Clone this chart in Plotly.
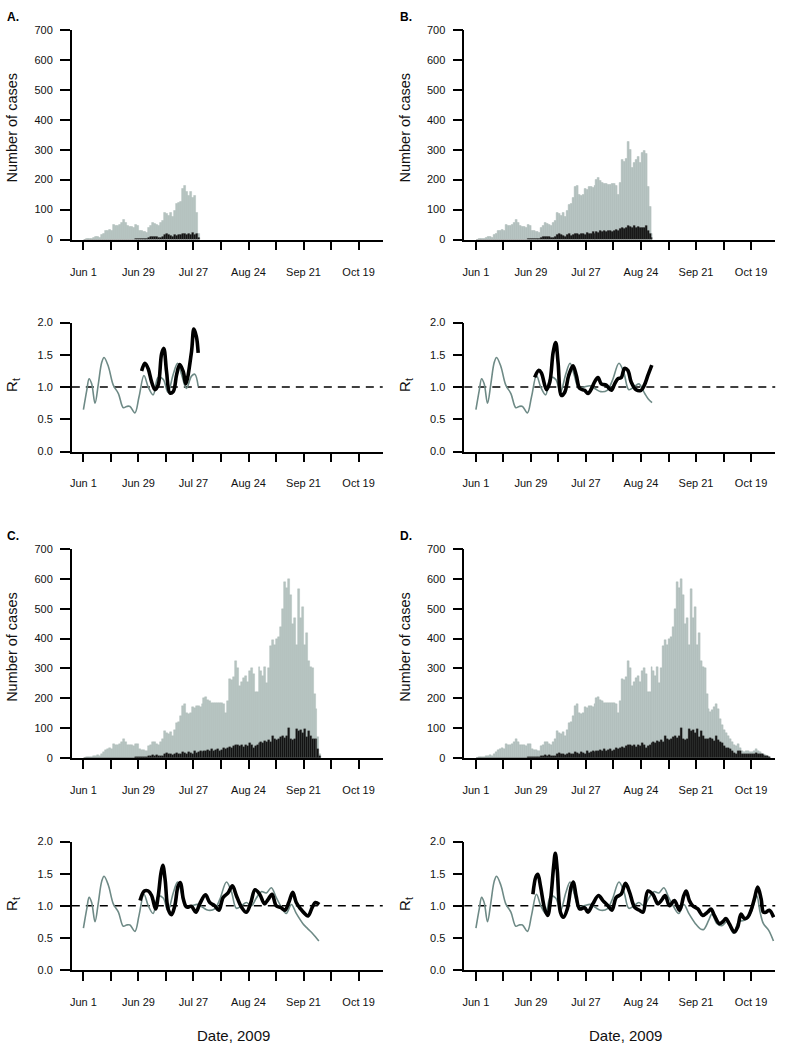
import pandas as pd
import plotly.graph_objects as go

START = pd.Timestamp("2009-06-01")

# ---------------- daily case counts (panel D = full series) ----------------
cases_total_D = [
    0, 2, 2, 3, 3, 5, 8, 10, 5, 15,
    20, 28, 30, 32, 30, 48, 45, 45, 48, 55,
    65, 55, 45, 42, 42, 40, 48, 47, 30, 28,
    27, 25, 22, 40, 45, 55, 52, 48, 45, 55,
    62, 90, 85, 80, 88, 75, 95, 118, 120, 140,
    175, 180, 150, 148, 150, 170, 168, 175, 175, 172,
    180, 200, 205, 195, 190, 185, 185, 184, 183, 185,
    185, 180, 150, 190, 265, 260, 270, 325, 300, 240,
    255, 268, 275, 255, 290, 300, 280, 220, 222, 305,
    290, 275, 305, 250, 300, 375, 395, 380, 400, 405,
    440, 500, 590, 570, 600, 545, 450, 470, 380, 565,
    470, 505, 380, 420, 325, 305, 300, 215, 165, 155,
    160, 170, 180, 165, 130, 110, 95, 85, 75, 65,
    52, 45, 40, 46, 35, 25, 20, 22, 25, 20,
    19, 22, 30, 25, 19, 15, 13, 10, 8, 3,
]
cases_black_D = [
    0, 0, 0, 0, 0, 0, 0, 0, 0, 0,
    0, 0, 0, 0, 0, 0, 0, 0, 0, 0,
    0, 0, 0, 0, 0, 0, 2, 3, 3, 2,
    3, 2, 3, 5, 8, 10, 8, 10, 6, 5,
    8, 15, 18, 15, 12, 10, 15, 18, 12, 15,
    20, 18, 15, 20, 18, 15, 22, 18, 20, 25,
    20, 25, 22, 28, 25, 30, 25, 28, 30, 25,
    28, 32, 30, 35, 38, 35, 40, 45, 42, 40,
    45, 38, 42, 40, 50, 45, 35, 40, 45, 50,
    55, 50, 58, 55, 60, 55, 75, 62, 60, 65,
    70, 72, 68, 75, 100, 62, 60, 65, 98, 92,
    95, 85, 96, 70, 90, 75, 65, 62, 65, 68,
    62, 58, 75, 60, 55, 50, 40, 35, 35, 30,
    22, 18, 15, 22, 25, 15, 12, 12, 15, 14,
    15, 12, 18, 15, 12, 15, 10, 8, 5, 2,
]

# earlier (truncated) data sets: first cut days shared with D, then own tail
cut_A = 47
tail_total_A = [120, 122, 125, 170, 180, 160, 145, 160, 140, 145, 90, 20]
tail_black_A = [12, 15, 15, 18, 20, 15, 20, 15, 22, 15, 18, 5]
cut_B = 84
tail_total_B = [290, 295, 285, 175, 110, 20]
tail_black_B = [40, 38, 45, 30, 20, 5]
cut_C = 119
tail_total_C = [70, 15]
tail_black_C = [30, 5]

# ---------------- Rt estimates (day offset from Jun 1, value) ----------------
rt_gray_days_D = [0, 1.7, 2.9, 4.2, 5.9, 7.6, 9.3, 10.5, 12.7, 15.2, 17.8, 20.3, 22, 23.7,
                  26.2, 28.3, 30.8, 33, 35.5, 38, 40.6, 43, 45.7, 47.9, 49.9, 52.4, 55,
                  58.4, 60.9, 63.5, 66.8, 69.4, 72.8, 75.3, 77.8, 80.4, 82.9, 85.4, 88,
                  90.5, 93.1, 95.6, 98.1, 100.7, 103.2, 105.8, 108.3, 111.7, 114.2, 115.9,
                  118.4, 120.1, 122.7, 125.2, 127.7, 131.1, 133.6, 136.2, 138.7, 141.2,
                  142.9, 144.6, 146.3, 148.9, 151.4]
rt_gray_D = [0.65, 0.95, 1.13, 1.05, 0.75, 1.05, 1.38, 1.46, 1.32, 1.03, 0.90, 0.68, 0.70,
             0.70, 0.60, 0.85, 1.18, 1.0, 0.88, 1.15, 1.12, 0.92, 1.2, 1.37, 1.2, 0.98, 1.0,
             1.02, 0.97, 0.93, 0.95, 1.1, 1.37, 1.22, 0.96, 1.0, 1.05, 1.0, 1.12, 1.22, 1.2,
             1.28, 1.13, 0.98, 0.88, 1.02, 0.88, 0.72, 0.64, 0.63, 0.77, 0.87, 0.72, 0.69,
             0.75, 0.57, 0.75, 0.77, 0.82, 1.0, 1.16, 0.90, 0.72, 0.62, 0.45]
# gray tails of the earlier data sets (replace D's curve after the given day)
rt_gray_cut_A = 52.4
rt_gray_tail_days_A = [55, 56.7, 58.4]
rt_gray_tail_A = [1.17, 1.20, 1.01]
rt_gray_cut_B = 82.9
rt_gray_tail_days_B = [85.9, 87.6, 89.6]
rt_gray_tail_B = [0.90, 0.82, 0.76]
rt_gray_cut_C = 114.2
rt_gray_tail_days_C = [116.8, 119.8]
rt_gray_tail_C = [0.56, 0.45]

rt_black_days_A = [29.6, 31.3, 33, 34.7, 36.4, 38, 39.8, 40.9, 42.3, 44, 45.7, 47.4, 49,
                   50.8, 52.1, 55, 56.2, 57.5, 58.4]
rt_black_A = [1.25, 1.37, 1.28, 1.08, 0.96, 1.03, 1.52, 1.60, 1.24, 0.91, 0.93, 1.19, 1.35,
              1.24, 1.05, 1.55, 1.90, 1.78, 1.53]

rt_black_days_B = [29.9, 32, 33.3, 35.9, 37.6, 39.3, 40.6, 41.8, 43.5, 45.2, 47.2, 49.4,
                   51.1, 52.8, 55.3, 57, 58.7, 60.4, 62.1, 63.8, 66.3, 68.9, 70.6, 72.3, 74,
                   75.6, 77.3, 79, 81.5, 84, 85.7, 87.5, 89.5]
rt_black_B = [1.15, 1.26, 1.22, 0.96, 1.08, 1.54, 1.69, 1.38, 0.87, 0.92, 1.18, 1.33, 1.18,
              0.98, 0.95, 0.90, 0.97, 1.08, 1.15, 1.05, 1.03, 0.95, 1.05, 1.13, 1.15, 1.29,
              1.26, 1.08, 0.96, 0.95, 1.03, 1.18, 1.34]

rt_black_days_C = [28.8, 31, 33, 34.7, 36.7, 38.1, 39.4, 40.4, 41.6, 43.1, 44.8, 46.5, 48.2,
                   49.4, 50.8, 52.5, 55, 57.2, 59.2, 62.1, 64.3, 66.8, 68.9, 71.1, 73.6, 75.8,
                   77.8, 80.4, 82.9, 85.1, 87.3, 89.7, 92.2, 94, 96, 98.1, 100.5, 102.5,
                   104.5, 106.5, 108.3, 110.5, 112.5, 114.3, 116.5, 118, 120]
rt_black_C = [1.08, 1.23, 1.23, 1.16, 0.95, 1.16, 1.5, 1.63, 1.4, 0.95, 0.86, 1.0, 1.31, 1.36,
              1.11, 0.98, 0.99, 0.90, 1.03, 1.17, 1.05, 1.0, 0.93, 1.13, 1.2, 1.31, 1.16,
              0.98, 0.90, 1.04, 1.25, 1.18, 1.03, 1.1, 1.18, 1.0, 0.97, 0.93, 1.05, 1.21,
              1.05, 0.95, 0.88, 0.84, 0.98, 1.05, 1.02]

rt_black_days_D = [29, 30.5, 31.5, 32.9, 35, 36.5, 38, 39.5, 40.4, 41.4, 43, 44.5, 46.5, 48.5,
                   49.6, 51, 52.8, 55.3, 57, 59.5, 62.4, 64.6, 67.2, 69.2, 71.4, 73.9, 76.1,
                   78.2, 80.7, 83.2, 85, 87.5, 90, 92.6, 94.3, 96.3, 98.5, 101, 103.6, 105.8,
                   107, 108.6, 110.3, 112.9, 115.4, 117.9, 119.6, 121.3, 123.9, 125.6, 127.2,
                   128.9, 131.5, 133.2, 134.9, 136.6, 138.3, 140, 141.7, 143.4, 145.1, 146.3,
                   147.6, 149.3, 151.5]
rt_black_D = [1.18, 1.45, 1.49, 1.3, 0.95, 0.85, 1.1, 1.6, 1.82, 1.55, 0.9, 0.82, 0.95, 1.3,
              1.37, 1.15, 0.95, 0.97, 0.90, 1.03, 1.16, 1.08, 1.0, 0.93, 1.13, 1.18, 1.35, 1.21,
              0.98, 0.93, 0.90, 1.23, 1.18, 1.03, 1.08, 1.16, 1.0, 1.08, 0.93, 1.16, 1.23, 1.08,
              1.0, 0.95, 0.85, 0.90, 0.95, 0.85, 0.72, 0.75, 0.80, 0.72, 0.59, 0.67, 0.87,
              0.80, 0.82, 0.93, 1.11, 1.29, 1.11, 0.90, 0.90, 0.93, 0.82]

panel_letters = ["A.", "B.", "C.", "D."]
tick_labels = ["Jun 1", "", "Jun 29", "", "Jul 27", "", "Aug 24", "", "Sep 21", "", "Oct 19"]
hist_ticks = [0, 100, 200, 300, 400, 500, 600, 700]
rt_ticks = [0.0, 0.5, 1.0, 1.5, 2.0]
y_title_hist = "Number of cases"
y_title_rt = "R<sub>t</sub>"
x_title = "Date, 2009"

# ---------------- assemble per-panel data ----------------
def days_to_dates(days):
    return [START + pd.Timedelta(days=float(d)) for d in days]

def cut_curve(days, vals, cut, tdays, tvals):
    d = [x for x in days if x <= cut]
    v = vals[:len(d)]
    return d + tdays, v + tvals

panels = {
    "A": dict(total=cases_total_D[:cut_A] + tail_total_A,
              black=cases_black_D[:cut_A] + tail_black_A,
              gray=cut_curve(rt_gray_days_D, rt_gray_D, rt_gray_cut_A, rt_gray_tail_days_A, rt_gray_tail_A),
              blk=(rt_black_days_A, rt_black_A)),
    "B": dict(total=cases_total_D[:cut_B] + tail_total_B,
              black=cases_black_D[:cut_B] + tail_black_B,
              gray=cut_curve(rt_gray_days_D, rt_gray_D, rt_gray_cut_B, rt_gray_tail_days_B, rt_gray_tail_B),
              blk=(rt_black_days_B, rt_black_B)),
    "C": dict(total=cases_total_D[:cut_C] + tail_total_C,
              black=cases_black_D[:cut_C] + tail_black_C,
              gray=cut_curve(rt_gray_days_D, rt_gray_D, rt_gray_cut_C, rt_gray_tail_days_C, rt_gray_tail_C),
              blk=(rt_black_days_C, rt_black_C)),
    "D": dict(total=cases_total_D, black=cases_black_D,
              gray=(rt_gray_days_D, rt_gray_D),
              blk=(rt_black_days_D, rt_black_D)),
}

# ---------------- layout geometry (pixels) ----------------
W, H = 788, 1050
cols = {"A": (70, 381.7), "B": (463.5, 775.2), "C": (70, 381.7), "D": (463.5, 775.2)}
rows = {"A": ((24, 236.3), (320.3, 450.7)), "B": ((24, 236.3), (320.3, 450.7)),
        "C": ((549.3, 760.7), (845.3, 975.0)), "D": ((549.3, 760.7), (845.3, 975.0))}

def px(x):
    return x / W

def py(y):
    return 1 - y / H

GRAY_BAR = "#b6c3c0"
GRAY_LINE = "#6e8a86"
FONT = "Liberation Sans, Arial, Helvetica, sans-serif"

xticks = [START + pd.Timedelta(days=14 * k) for k in range(11)]
xrange_ = [START - pd.Timedelta(days=5.9), START + pd.Timedelta(days=152.3)]

fig = go.Figure()
layout = dict(width=W, height=H, margin=dict(l=0, r=0, t=0, b=0),
              paper_bgcolor="white", plot_bgcolor="white", showlegend=False,
              barmode="overlay", bargap=0, font=dict(family=FONT, color="black", size=11))
shapes, annotations = [], []

axis_common = dict(showgrid=False, zeroline=False, showline=True, linecolor="black",
                   linewidth=1.5, ticks="outside", tickcolor="black", tickwidth=1.5,
                   tickfont=dict(family=FONT, size=11, color="#111"))

for i, key in enumerate(["A", "B", "C", "D"]):
    p = panels[key]
    x0, x1 = cols[key]
    (ht, hb), (rtop, rbot) = rows[key]
    ih, ir = 2 * i + 1, 2 * i + 2
    xa_h, ya_h = f"x{ih}", f"y{ih}"
    xa_r, ya_r = f"x{ir}", f"y{ir}"

    bar_x = [d + pd.Timedelta(hours=12) for d in pd.date_range(START, periods=len(p["total"]), freq="D")]
    bar_xb = bar_x[:len(p["black"])]
    fig.add_trace(go.Bar(x=bar_x, y=p["total"], xaxis=xa_h, yaxis=ya_h, width=86400000,
                         marker=dict(color=GRAY_BAR, line=dict(color="#a9b8b5", width=0.4)),
                         hoverinfo="skip"))
    fig.add_trace(go.Bar(x=bar_xb, y=p["black"], xaxis=xa_h, yaxis=ya_h, width=86400000,
                         marker=dict(color="#121212", line=dict(color="#3a3a3a", width=0.3)),
                         hoverinfo="skip"))

    gd, gv = p["gray"]
    bd, bv = p["blk"]
    fig.add_trace(go.Scatter(x=days_to_dates(gd), y=gv, xaxis=xa_r, yaxis=ya_r, mode="lines",
                             line=dict(color=GRAY_LINE, width=1.6, shape="spline", smoothing=1.0),
                             hoverinfo="skip"))
    fig.add_trace(go.Scatter(x=days_to_dates(bd), y=bv, xaxis=xa_r, yaxis=ya_r, mode="lines",
                             line=dict(color="black", width=3.6, shape="spline", smoothing=1.0),
                             hoverinfo="skip"))

    xdom = [px(x0), px(x1)]
    for (xa, ya, top, bot, yr, yt, fmt) in [
        (ih, ih, ht, hb, [0, 700], hist_ticks, "d"),
        (ir, ir, rtop, rbot, [0, 2], rt_ticks, ".1f"),
    ]:
        layout[f"xaxis{xa}"] = dict(axis_common, domain=xdom, anchor=f"y{ya}", type="date",
                                    range=xrange_, tickmode="array", tickvals=xticks,
                                    ticktext=tick_labels, ticklen=9, ticklabelstandoff=12)
        layout[f"yaxis{ya}"] = dict(axis_common, domain=[py(bot), py(top)], anchor=f"x{xa}",
                                    range=yr, tickmode="array", tickvals=yt, tickformat=fmt,
                                    ticklen=10, ticklabelstandoff=5)

    shapes.append(dict(type="line", xref=f"x{ir} domain", yref=f"y{ir}", x0=0, x1=1, y0=1, y1=1,
                       line=dict(color="black", width=1.5, dash="8px,6px"), layer="below"))

    # titles
    lx = 0 if key in ("A", "C") else 394
    annotations.append(dict(text=f"<b>{panel_letters[i]}</b>", x=px(lx + 3), y=py(ht - 13),
                            xref="paper", yref="paper", showarrow=False, xanchor="left",
                            yanchor="middle", font=dict(family=FONT, size=12, color="black")))
    annotations.append(dict(text=y_title_hist, x=px(lx + 10), y=py(ht + 99), xref="paper",
                            yref="paper", showarrow=False, textangle=-90, xanchor="center",
                            yanchor="middle", font=dict(family=FONT, size=14.5, color="#111")))
    annotations.append(dict(text=y_title_rt, x=px(lx + 11), y=py(rtop + 63), xref="paper",
                            yref="paper", showarrow=False, textangle=-90, xanchor="center",
                            yanchor="middle", font=dict(family=FONT, size=15, color="#111")))
    if key in ("C", "D"):
        annotations.append(dict(text=x_title, x=px((x0 + x1) / 2 + 6), y=py(1041), xref="paper",
                                yref="paper", showarrow=False, xanchor="center", yanchor="middle",
                                borderpad=0, font=dict(family=FONT, size=15, color="#111")))

layout["shapes"] = shapes
layout["annotations"] = annotations
fig.update_layout(**layout)
fig.write_html("out.html", config={"displayModeBar": False},
               post_script="document.body.style.margin='0';")
